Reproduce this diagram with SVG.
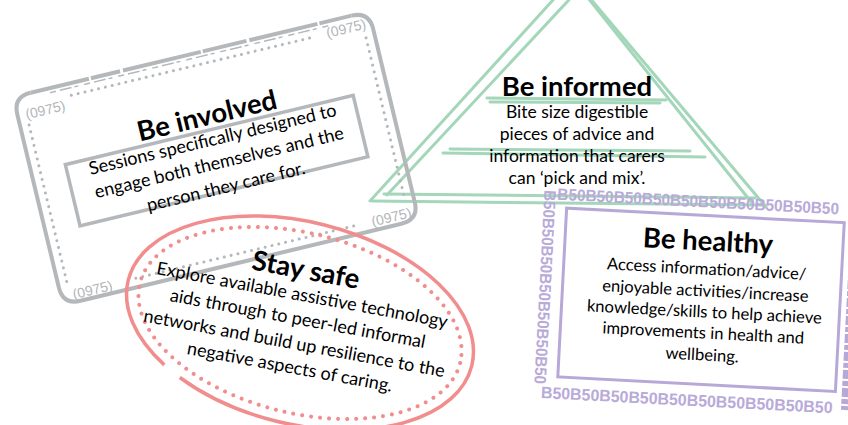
<svg xmlns="http://www.w3.org/2000/svg" width="848" height="425" viewBox="0 0 848 425">
<style>
.t{font-family:Lato,"Liberation Sans",sans-serif;fill:#000;text-anchor:middle}
.h{font-weight:bold;font-size:27.5px}
.b{font-size:18px}
.b2{font-size:17.5px}
.b3{font-size:16.6px}
.grey{stroke:#b5b8bb;fill:none}
.grn{stroke:#a4d6b9;fill:none;stroke-width:3;stroke-linecap:round;stroke-linejoin:round}
.red{stroke:#f28d8d;fill:none}
.pur{stroke:#b7a8d8;fill:none}
.gnum{font-family:"Liberation Sans",sans-serif;font-size:14px;fill:#b2b5b8}
.pnum{font-family:"Liberation Sans",sans-serif;font-weight:bold;font-size:16.5px;fill:#b9aad9}
.dots{stroke-dasharray:0 7;stroke-linecap:round;stroke-width:3}
</style>
<rect width="848" height="425" fill="#fff"/>

<g id="be-informed">
  <path class="grn" d="M370 201 L573 -22 L766 207"/>
  <path class="grn" d="M387 195 L580 -12 L752 203"/>
  <path class="grn" stroke-width="4.5" d="M487 98 L666 100"/>
  <path class="grn" stroke-width="1.5" d="M490 102 L660 103"/>
  <path class="grn" stroke-width="4.5" d="M443 153 L705 157"/>
  <path class="grn" stroke-width="1.5" d="M450 149 L690 151"/>
  <path class="grn" d="M384 194 L755 198"/>
  <path class="grn" d="M372 201 L765 205" stroke-width="4.5"/>
  <text class="t h" x="577" y="96">Be informed</text>
  <text class="t b2" x="577" y="118">Bite size digestible</text>
  <text class="t b2" x="577" y="140">pieces of advice and</text>
  <text class="t b2" x="577" y="162">information that carers</text>
  <text class="t b2" x="577" y="184">can ‘pick and mix’.</text>
</g>

<g id="be-involved" transform="rotate(-13.5 217 158)">
  <path class="grey" stroke-width="4" d="M381 51 Q399 51 399 69 L399 247 Q399 265 381 265 L51 265 Q33 265 33 247 L33 69 Q33 51 51 51"/>
  <path class="grey" stroke-width="4" stroke-dasharray="60 2 30 3 80 2 45 3 70 2 40 3" d="M51 51 L381 51"/>
  <path class="grey" stroke-width="1.5" stroke-dasharray="6 4 12 3 4 6" d="M70 55.5 L360 55.5"/>
  <path class="grey dots" d="M90 63 L336 63 M42 82 L42 248 M390 76 L390 244 M110 256 L338 256"/>
  <text class="gnum" x="41" y="76">(0975)</text>
  <text class="gnum" x="393" y="67" text-anchor="end">(0975)</text>
  <text class="gnum" x="393" y="261" text-anchor="end">(0975)</text>
  <text class="gnum" x="45" y="262">(0975)</text>
  <rect class="grey" stroke-width="3.5" x="68" y="129" width="296" height="63"/>
  <text class="t h" x="217" y="124">Be involved</text>
  <text class="t b" x="217" y="145">Sessions specifically designed to</text>
  <text class="t b" x="218" y="169">engage both themselves and the</text>
  <text class="t b" x="219" y="194">person they care for.</text>
</g>

<g id="stay-safe">
  <ellipse class="red" stroke-width="3.5" cx="300" cy="323" rx="177" ry="101" transform="rotate(14 300 323)" stroke-dasharray="328 20 600"/>
  <ellipse class="red" stroke-width="4" cx="300" cy="323" rx="165" ry="90" transform="rotate(14 300 323)" stroke-dasharray="0 9" stroke-linecap="round"/>
  <g transform="rotate(10.5 300 318)">
    <text class="t h" x="297" y="279">Stay safe</text>
    <text class="t b" x="298" y="301">Explore available assistive technology</text>
    <text class="t b" x="298" y="325">aids through to peer-led informal</text>
    <text class="t b" x="299" y="350">networks and build up resilience to the</text>
    <text class="t b" x="299" y="374">negative aspects of caring.</text>
  </g>
</g>

<g id="be-healthy" transform="rotate(3 695 300)">
  <rect class="pur" stroke-width="3" x="562" y="215" width="278" height="169"/>
  <text class="pnum" x="552" y="207" textLength="282" lengthAdjust="spacingAndGlyphs">B50B50B50B50B50B50B50B50B50B50</text>
  <text class="pnum" x="546" y="406" textLength="292" lengthAdjust="spacingAndGlyphs">B50B50B50B50B50B50B50B50B50B50</text>
  <text class="pnum" transform="translate(539 198) rotate(90)" textLength="194" lengthAdjust="spacingAndGlyphs">B50B50B50B50B50B50B50</text>
  <path class="pur" stroke-width="7" stroke-dasharray="9 2 5 2" d="M850 200 L850 402"/>
  <text class="t h" x="705" y="250">Be healthy</text>
  <text class="t b3" x="705" y="274">Access information/advice/</text>
  <text class="t b3" x="705" y="296">enjoyable activities/increase</text>
  <text class="t b3" x="705" y="317">knowledge/skills to help achieve</text>
  <text class="t b3" x="705" y="338">improvements in health and</text>
  <text class="t b3" x="705" y="360">wellbeing.</text>
</g>
</svg>
